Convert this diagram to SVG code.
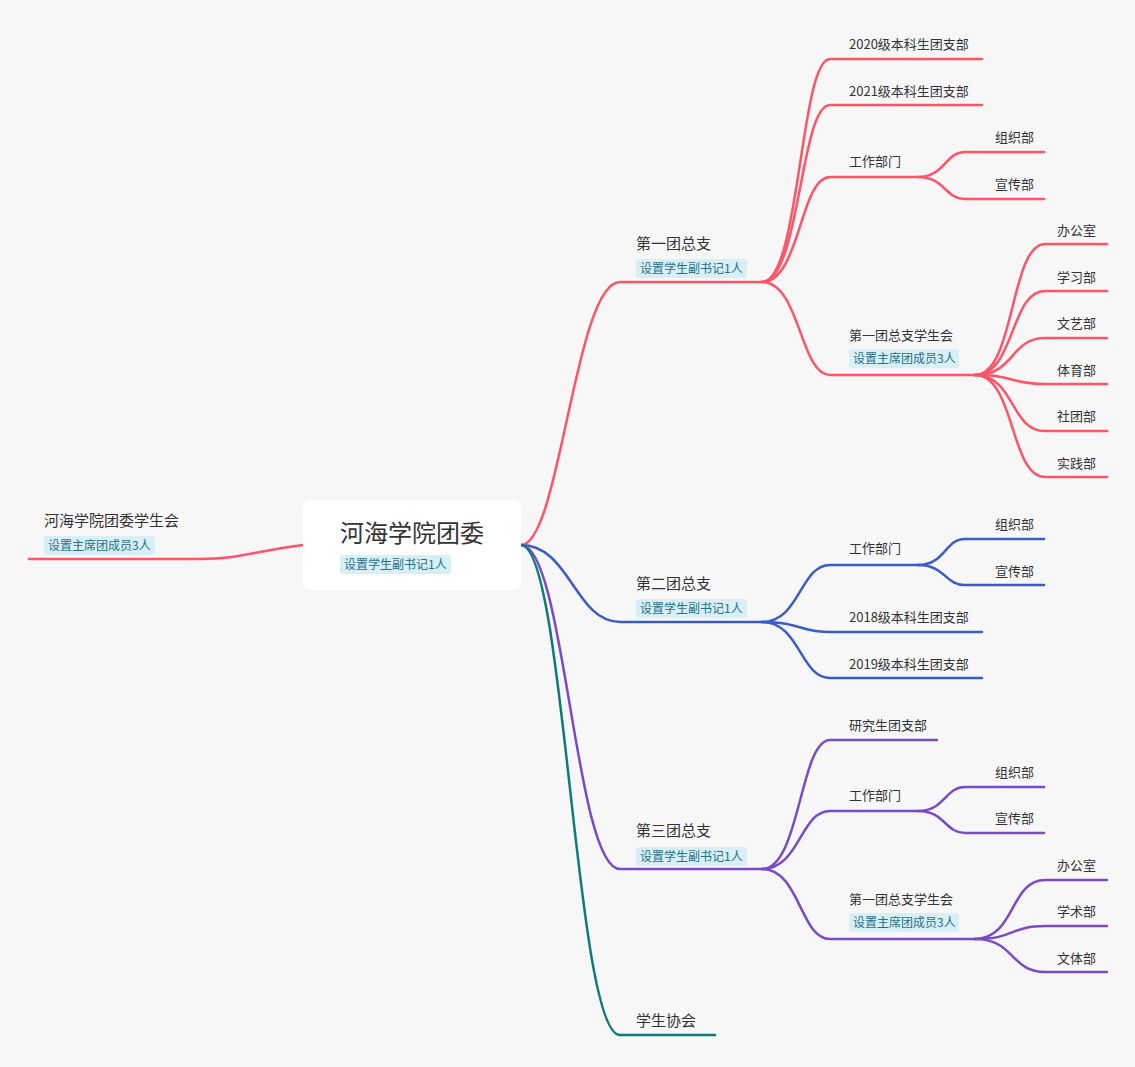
<svg xmlns="http://www.w3.org/2000/svg" width="1135" height="1067" viewBox="0 0 1135 1067">
<style>
text{font-family:"Noto Sans CJK SC","Noto Sans",sans-serif;fill:#333}
.t13{font-size:13px}.t15{font-size:15px}
.tag{fill:#d6f0f6}.tagt{font-size:12px;fill:#2a6f86}
path{fill:none;stroke-width:2.5;stroke-linecap:round}
.r{stroke:#ff5468}.b{stroke:#3b5cc7}.p{stroke:#7a4bc6}.g{stroke:#0f7a7c}
</style>
<rect width="1135" height="1067" fill="#f7f7f7"/>
<g id="connectors">
<path class="r" d="M303,545 C250,552 240,559 200,559 L29,559"/>
<path class="r" d="M521,545 C560,545 575,282 620,282 L762,282"/>
<path class="r" d="M762,282 C800,282 800,59 830,59 L982,59"/>
<path class="r" d="M762,282 C800,282 800,105 830,105 L982,105"/>
<path class="r" d="M762,282 C800,282 800,177 830,177 L918,177"/>
<path class="r" d="M762,282 C800,282 800,375 830,375 L975,375"/>
<path class="r" d="M918,177 C945,177 945,152 965,152 L1044,152"/>
<path class="r" d="M918,177 C945,177 945,199 965,199 L1044,199"/>
<path class="r" d="M975,375 C1015,375 1010,244 1045,244 L1107,244"/>
<path class="r" d="M975,375 C1015,375 1010,291 1045,291 L1107,291"/>
<path class="r" d="M975,375 C1015,375 1010,338 1045,338 L1107,338"/>
<path class="r" d="M975,375 C1015,375 1010,384 1045,384 L1107,384"/>
<path class="r" d="M975,375 C1015,375 1010,431 1045,431 L1107,431"/>
<path class="r" d="M975,375 C1015,375 1010,477 1045,477 L1107,477"/>
<path class="b" d="M521,545 C570,545 575,622 620,622 L762,622"/>
<path class="b" d="M762,622 C800,622 800,565 830,565 L918,565"/>
<path class="b" d="M762,622 C800,622 800,632 830,632 L982,632"/>
<path class="b" d="M762,622 C800,622 800,678 830,678 L982,678"/>
<path class="b" d="M918,565 C945,565 945,539 965,539 L1044,539"/>
<path class="b" d="M918,565 C945,565 945,585 965,585 L1044,585"/>
<path class="p" d="M521,545 C565,545 575,869 620,869 L762,869"/>
<path class="p" d="M762,869 C800,869 800,740 830,740 L937,740"/>
<path class="p" d="M762,869 C800,869 800,811 830,811 L918,811"/>
<path class="p" d="M762,869 C800,869 800,939 830,939 L975,939"/>
<path class="p" d="M918,811 C945,811 945,787 965,787 L1044,787"/>
<path class="p" d="M918,811 C945,811 945,833 965,833 L1044,833"/>
<path class="p" d="M975,939 C1015,939 1010,880 1045,880 L1107,880"/>
<path class="p" d="M975,939 C1015,939 1010,926 1045,926 L1107,926"/>
<path class="p" d="M975,939 C1015,939 1010,972 1045,972 L1107,972"/>
<path class="g" d="M521,545 C565,545 575,1035 620,1035 L715,1035"/>
</g>
<g id="root">
<rect x="303" y="500" width="218" height="90" rx="7" fill="#fff"/>
<text x="340" y="542" font-size="24">河海学院团委</text>
<rect class="tag" x="340" y="555" width="111" height="19" rx="3"/>
<text class="tagt" x="344" y="569">设置学生副书记1人</text>
</g>
<g id="left"><text class="t15" x="44" y="526">河海学院团委学生会</text><rect class="tag" x="44" y="536" width="111" height="19" rx="3"/><text class="tagt" x="48" y="550">设置主席团成员3人</text></g>
<g id="b1"><text class="t15" x="636" y="249">第一团总支</text><rect class="tag" x="636" y="259" width="111" height="19" rx="3"/><text class="tagt" x="640" y="273">设置学生副书记1人</text></g>
<g id="b1a"><text class="t13" x="849" y="49">2020级本科生团支部</text></g>
<g id="b1b"><text class="t13" x="849" y="96">2021级本科生团支部</text></g>
<g id="b1c"><text class="t13" x="849" y="166">工作部门</text></g>
<g id="b1c1"><text class="t13" x="995" y="142">组织部</text></g>
<g id="b1c2"><text class="t13" x="995" y="189">宣传部</text></g>
<g id="b1d"><text class="t13" x="849" y="340">第一团总支学生会</text><rect class="tag" x="849" y="349" width="110" height="19" rx="3"/><text class="tagt" x="853" y="363">设置主席团成员3人</text></g>
<g id="b1d1"><text class="t13" x="1057" y="235">办公室</text></g>
<g id="b1d2"><text class="t13" x="1057" y="282">学习部</text></g>
<g id="b1d3"><text class="t13" x="1057" y="328">文艺部</text></g>
<g id="b1d4"><text class="t13" x="1057" y="375">体育部</text></g>
<g id="b1d5"><text class="t13" x="1057" y="421">社团部</text></g>
<g id="b1d6"><text class="t13" x="1057" y="468">实践部</text></g>
<g id="b2"><text class="t15" x="636" y="589">第二团总支</text><rect class="tag" x="636" y="599" width="111" height="19" rx="3"/><text class="tagt" x="640" y="613">设置学生副书记1人</text></g>
<g id="b2a"><text class="t13" x="849" y="553">工作部门</text></g>
<g id="b2a1"><text class="t13" x="995" y="529">组织部</text></g>
<g id="b2a2"><text class="t13" x="995" y="576">宣传部</text></g>
<g id="b2b"><text class="t13" x="849" y="622">2018级本科生团支部</text></g>
<g id="b2c"><text class="t13" x="849" y="669">2019级本科生团支部</text></g>
<g id="b3"><text class="t15" x="636" y="836">第三团总支</text><rect class="tag" x="636" y="847" width="111" height="19" rx="3"/><text class="tagt" x="640" y="861">设置学生副书记1人</text></g>
<g id="b3a"><text class="t13" x="849" y="730">研究生团支部</text></g>
<g id="b3b"><text class="t13" x="849" y="800">工作部门</text></g>
<g id="b3b1"><text class="t13" x="995" y="777">组织部</text></g>
<g id="b3b2"><text class="t13" x="995" y="823">宣传部</text></g>
<g id="b3c"><text class="t13" x="849" y="904">第一团总支学生会</text><rect class="tag" x="849" y="913" width="110" height="19" rx="3"/><text class="tagt" x="853" y="927">设置主席团成员3人</text></g>
<g id="b3c1"><text class="t13" x="1057" y="870">办公室</text></g>
<g id="b3c2"><text class="t13" x="1057" y="916">学术部</text></g>
<g id="b3c3"><text class="t13" x="1057" y="963">文体部</text></g>
<g id="b4"><text class="t15" x="636" y="1026">学生协会</text></g>
</svg>
